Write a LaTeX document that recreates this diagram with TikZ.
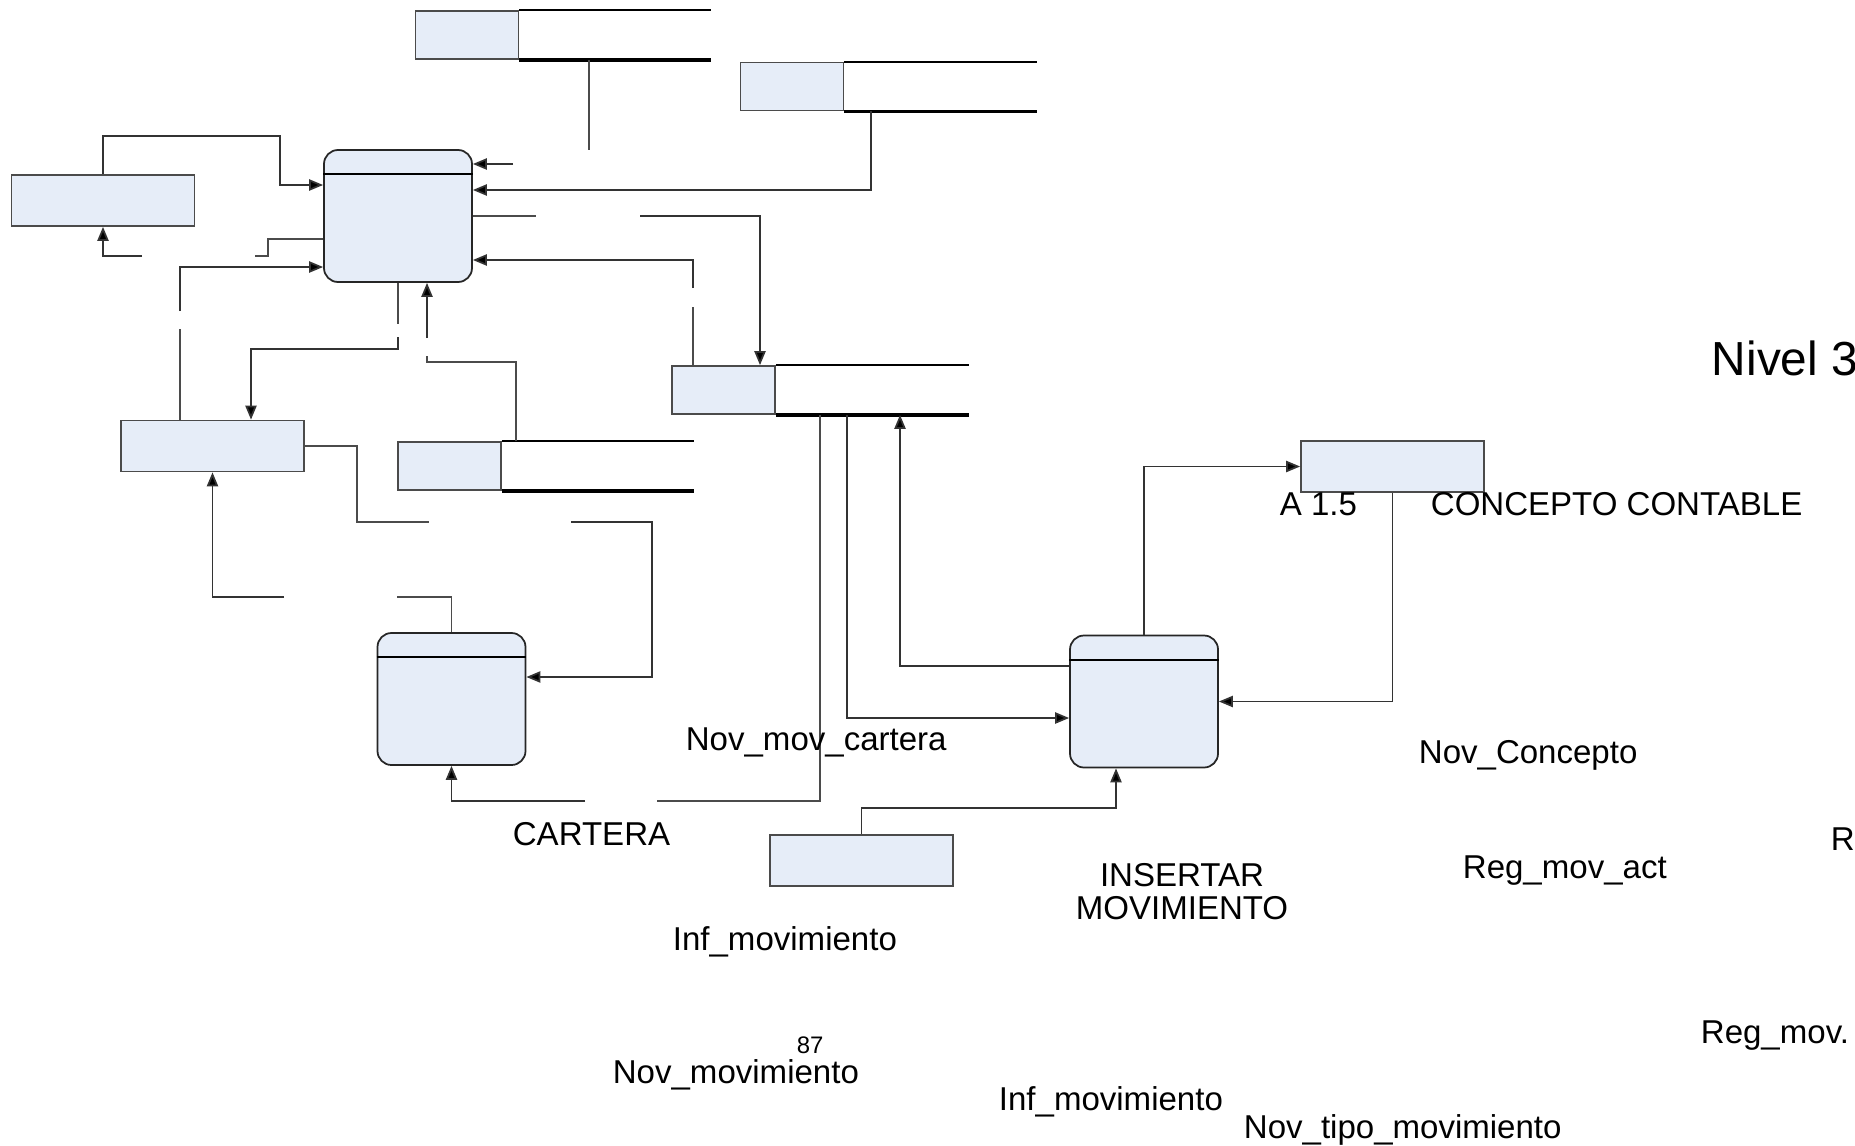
\documentclass[tikz,border=0pt]{standalone}
\usepackage{fontspec}
\setmainfont{Liberation Sans}
\usepackage{tikz}
\usetikzlibrary{positioning,arrows.meta}
\definecolor{boxfill}{RGB}{230,237,248}
\definecolor{linegray}{RGB}{75,75,75}
\tikzset{every picture/.style={line width=0.5pt}}
\tikzset{
  entity/.style={draw=linegray, fill=boxfill, minimum width=18.3mm, minimum height=5.1mm, inner sep=0pt},
  proc/.style={draw=black!85, fill=boxfill, rounded corners=1.4mm, minimum width=14.8mm, minimum height=13.2mm, inner sep=0pt},
  storeid/.style={draw=linegray, fill=boxfill, minimum width=10.3mm, minimum height=4.8mm, inner sep=0pt},
  flow/.style={draw=black!80, -{Triangle[length=4pt,width=3.2pt,fill=black]}},
  txt/.style={font=\fontsize{9.4}{9.4}\selectfont, inner sep=0pt, anchor=base west},
}
% almacen: nombre, x, y, largo de la parte abierta
\newcommand{\datastore}[4]{%
  \node[storeid] (#1) at (#2,#3) {};
  \draw[black, line width=0.6pt] (#1.north east) -- ++(#4,0);
  \draw[black, line width=1pt] (#1.south east) -- ++(#4,0);
}

\begin{document}
\begin{tikzpicture}[x=0.1mm, y=-0.1mm]
\useasboundingbox (0,0) rectangle (1855,1145);
\clip (0,0) rectangle (1855,1145);

% almacenes
\datastore{s1}{467}{35}{192}
\datastore{s2}{792}{86.5}{193}
\datastore{s3}{723.5}{390}{193}
\datastore{s4}{449.5}{466}{192}

% entidades
\node[entity] (e1) at (103,200.5) {};
\node[entity] (e2) at (212.5,446) {};
\node[entity] (e3) at (1392.5,466.5) {};
\node[entity] (e4) at (861.5,860.5) {};

% procesos
\node[proc] (p1) at (398,216) {};
\node[proc] (p2) at (451.5,699) {};
\node[proc] (p3) at (1144,701.5) {};
\foreach \p in {p1,p2,p3}
  \draw ([yshift=-2.5mm]\p.north west) -- ([yshift=-2.5mm]\p.north east);

% extremos libres (huecos de las etiquetas)
\coordinate (c1) at (589,150);
\coordinate (c2) at (513,164);
\coordinate (c3) at (536,216);
\coordinate (c4) at (640,216);
\coordinate (c5) at (693,307);
\coordinate (c6) at (693,288);
\coordinate (c7) at (255,256);
\coordinate (c8) at (142,256);
\coordinate (c9) at (180,329);
\coordinate (c10) at (180,311);
\coordinate (c11) at (398,324);
\coordinate (c12) at (398,337);
\coordinate (c13) at (427,356);
\coordinate (c14) at (427,338);
\coordinate (c15) at (429,522);
\coordinate (c16) at (571,522);
\coordinate (c17) at (397,597);
\coordinate (c18) at (284,597);
\coordinate (c19) at (657,801);
\coordinate (c20) at (585,801);

% flujos
\draw[linegray] (s1.south -| c1) -- (c1);
\draw[flow] (c2) -- (p1.east |- c2);
\draw[flow] (s2.south -| 871,0) |- (p1.east |- 0,190);
\draw[linegray] (p1.east |- c3) -- (c3);
\draw[flow] (c4) -| (s3.north -| 760,0);
\draw[linegray] (s3.north -| c5) -- (c5);
\draw[flow] (c6) |- (p1.east |- 0,260);
\draw[flow] (e1.north) |- (280,136) |- (p1.west |- 0,185);
\draw[linegray] (p1.west |- 0,239) -| (268,256) -- (c7);
\draw[flow] (c8) -| (e1.south);
\draw[linegray] (e2.north -| c9) -- (c9);
\draw[flow] (c10) |- (p1.west |- 0,267);
\draw[linegray] (p1.south) -- (c11);
\draw[flow] (c12) |- (251,349) -- (e2.north -| 251,0);
\draw[linegray] (s4.north -| 516,0) |- (427,362) -- (c13);
\draw[flow] (c14) -- (p1.south -| c14);
\draw[linegray] (e2.east) -| (357,522) -- (c15);
\draw[flow] (c16) -| (652,677) -- (p2.east |- 0,677);
\draw[linegray] (p2.north) |- (c17);
\draw[flow] (c18) -| (e2.south);
\draw[linegray] (s3.south -| 820,0) |- (c19);
\draw[flow] (c20) -| (p2.south);
\draw[flow] (s3.south -| 847,0) |- (p3.west |- 0,718);
\draw[flow] (p3.west |- 0,666) -| (s3.south -| 900,0);
\draw[flow] (p3.north) |- (e3.west);
\draw[flow] (e3.south) |- (p3.east);
\draw[flow] (e4.north) |- (1116,808) -- (p3.south -| 1116,0);

% textos
\node[txt, font=\fontsize{13.6}{13.6}\selectfont] (nivel) at (1711,375) {Nivel 3};
\node[txt] (a15) at (1279,515) {A 1.5};
\node[txt] (concepto) at (1430,515) {CONCEPTO CONTABLE};
\node[txt] (novconcepto) at (1418,763) {Nov\_Concepto};
\node[txt] (novmovcart) at (685,750) {Nov\_mov\_cartera};
\node[txt] (cartera) at (512,845) {CARTERA};
\node[txt] (infmov) at (672,950) {Inf\_movimiento};
\node[txt, font=\fontsize{6.8}{6.8}\selectfont] (pagina) at (796,1053) {87};
\node[txt] (novmov) at (612,1083) {Nov\_movimiento};
\node[txt, anchor=north, align=center] (insertar) at (1182,863) {INSERTAR\\MOVIMIENTO};
\node[txt] (regact) at (1462,878) {Reg\_mov\_act};
\node[txt] (regr) at (1830,850) {Re};
\node[txt] (regmov) at (1700,1043) {Reg\_mov.};
\node[txt] (infmovb) at (998,1110) {Inf\_movimiento};
\node[txt] (novtipo) at (1243,1138) {Nov\_tipo\_movimiento};
\end{tikzpicture}
\end{document}
